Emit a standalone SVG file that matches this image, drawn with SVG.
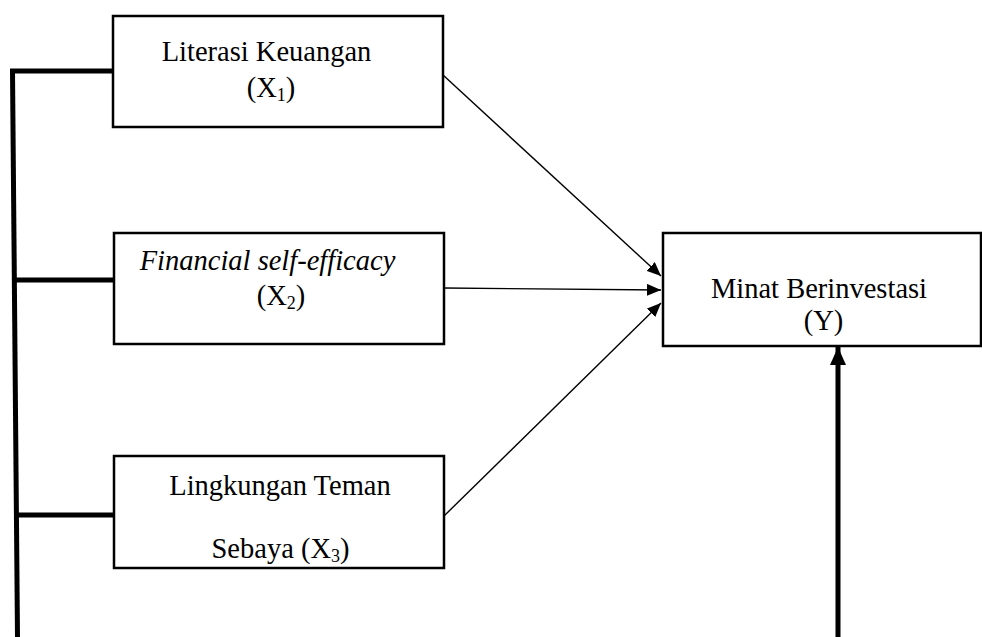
<svg xmlns="http://www.w3.org/2000/svg" width="982" height="637" viewBox="0 0 982 637">
<style>
.box{fill:#fff;stroke:#000;stroke-width:2.5}
.t{font-family:"Liberation Serif","Times New Roman",serif;font-size:28.5px;fill:#000;text-anchor:middle}
.i{font-style:italic}
.s{font-size:18px}
.thin{stroke:#000;stroke-width:1.4;fill:none}
.thick{stroke:#000;stroke-width:5;fill:none}
</style>
<defs>
<marker id="ah" markerWidth="14" markerHeight="12" refX="14" refY="6" orient="auto" markerUnits="userSpaceOnUse">
<path d="M0,0 L14,6 L0,12 Z" fill="#000"/>
</marker>
<marker id="ahb" markerWidth="18" markerHeight="16" refX="18" refY="8" orient="auto" markerUnits="userSpaceOnUse">
<path d="M0,0 L18,8 L0,16 Z" fill="#000"/>
</marker>
</defs>
<g id="connectors">
<path class="thick" d="M12.5,71 L17.5,637"/>
<line class="thick" x1="10" y1="71" x2="114" y2="71"/>
<line class="thick" x1="14" y1="280" x2="114" y2="280"/>
<line class="thick" x1="16" y1="515" x2="114" y2="515"/>
<line class="thin" x1="443" y1="75" x2="661" y2="276" marker-end="url(#ah)"/>
<line class="thin" x1="444" y1="288" x2="661" y2="290" marker-end="url(#ah)"/>
<line class="thin" x1="444" y1="516" x2="661" y2="303" marker-end="url(#ah)"/>
<line class="thick" x1="838" y1="637" x2="838" y2="347" marker-end="url(#ahb)"/>
</g>
<g id="x1">
<rect class="box" x="113" y="16" width="330" height="111"/>
<text class="t" x="266.5" y="61">Literasi Keuangan</text>
<text class="t" x="271" y="97">(X<tspan class="s" dy="4">1</tspan><tspan dy="-4">)</tspan></text>
</g>
<g id="x2">
<rect class="box" x="114" y="233" width="330" height="111"/>
<text class="t i" x="267.5" y="270">Financial self-efficacy</text>
<text class="t" x="281" y="305">(X<tspan class="s" dy="4">2</tspan><tspan dy="-4">)</tspan></text>
</g>
<g id="x3">
<rect class="box" x="114" y="456" width="330" height="112"/>
<text class="t" x="280" y="495">Lingkungan Teman</text>
<text class="t" x="280.5" y="558">Sebaya (X<tspan class="s" dy="4">3</tspan><tspan dy="-4">)</tspan></text>
</g>
<g id="y">
<rect class="box" x="663" y="233" width="318" height="113"/>
<text class="t" x="819" y="298">Minat Berinvestasi</text>
<text class="t" x="823.5" y="330">(Y)</text>
</g>
</svg>
